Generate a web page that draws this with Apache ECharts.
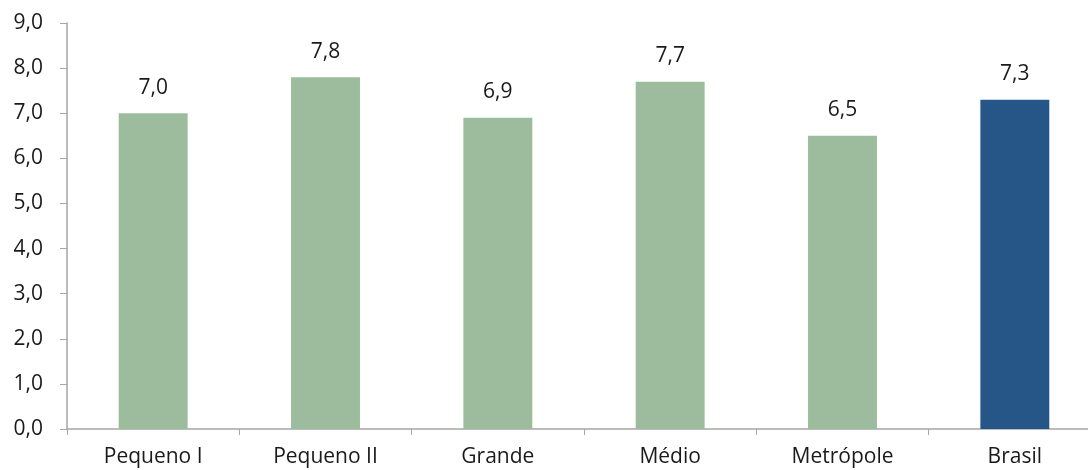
<!DOCTYPE html>
<html>
<head>
<meta charset="utf-8">
<script src="https://cdn.jsdelivr.net/npm/echarts@6/dist/echarts.min.js"></script>
<style>
  html, body { margin: 0; padding: 0; background: #fff; }
  #main { width: 1088px; height: 470px; }
</style>
</head>
<body>
<div id="main"></div>
<script>
var categories = ['Pequeno I', 'Pequeno II', 'Grande', 'Médio', 'Metrópole', 'Brasil'];
var values = [7.0, 7.8, 6.9, 7.7, 6.5, 7.3];
var barColors = ['#9dbb9d', '#9dbb9d', '#9dbb9d', '#9dbb9d', '#9dbb9d', '#265587'];

function fmt(v) {
    return Number(v).toFixed(1).replace('.', ',');
}

var myChart = echarts.init(document.getElementById('main'));
var font = 'Open Sans';

var option = {
    animation: false,
    grid: {
        left: 67,
        right: -13,
        top: 23,
        bottom: 41,
        outerBoundsMode: 'none',
        containLabel: false
    },
    xAxis: {
        type: 'category',
        data: categories,
        axisLine: { lineStyle: { color: '#a6a6a6', width: 1.5 } },
        axisTick: { show: true, length: 6, lineStyle: { color: '#a6a6a6' } },
        axisLabel: { color: '#1a1a1a', fontSize: 21, fontFamily: font, margin: 18 }
    },
    yAxis: {
        type: 'value',
        min: 0,
        max: 9,
        interval: 1,
        axisLine: { show: true, lineStyle: { color: '#a6a6a6', width: 1.5 } },
        axisTick: { show: true, length: 7, lineStyle: { color: '#a6a6a6' } },
        splitLine: { show: false },
        axisLabel: {
            color: '#1a1a1a', fontSize: 21, fontFamily: font, margin: 24,
            formatter: function (v) { return fmt(v); }
        }
    },
    series: [
        {
            type: 'bar',
            barWidth: '40%',
            data: values.map(function (v, i) {
                return { value: v, itemStyle: { color: barColors[i] } };
            }),
            label: {
                show: true,
                position: 'top',
                distance: 15,
                color: '#1a1a1a',
                fontSize: 21,
                fontFamily: font,
                formatter: function (p) { return fmt(p.value); }
            }
        }
    ]
};
myChart.setOption(option);
</script>
</body>
</html>
